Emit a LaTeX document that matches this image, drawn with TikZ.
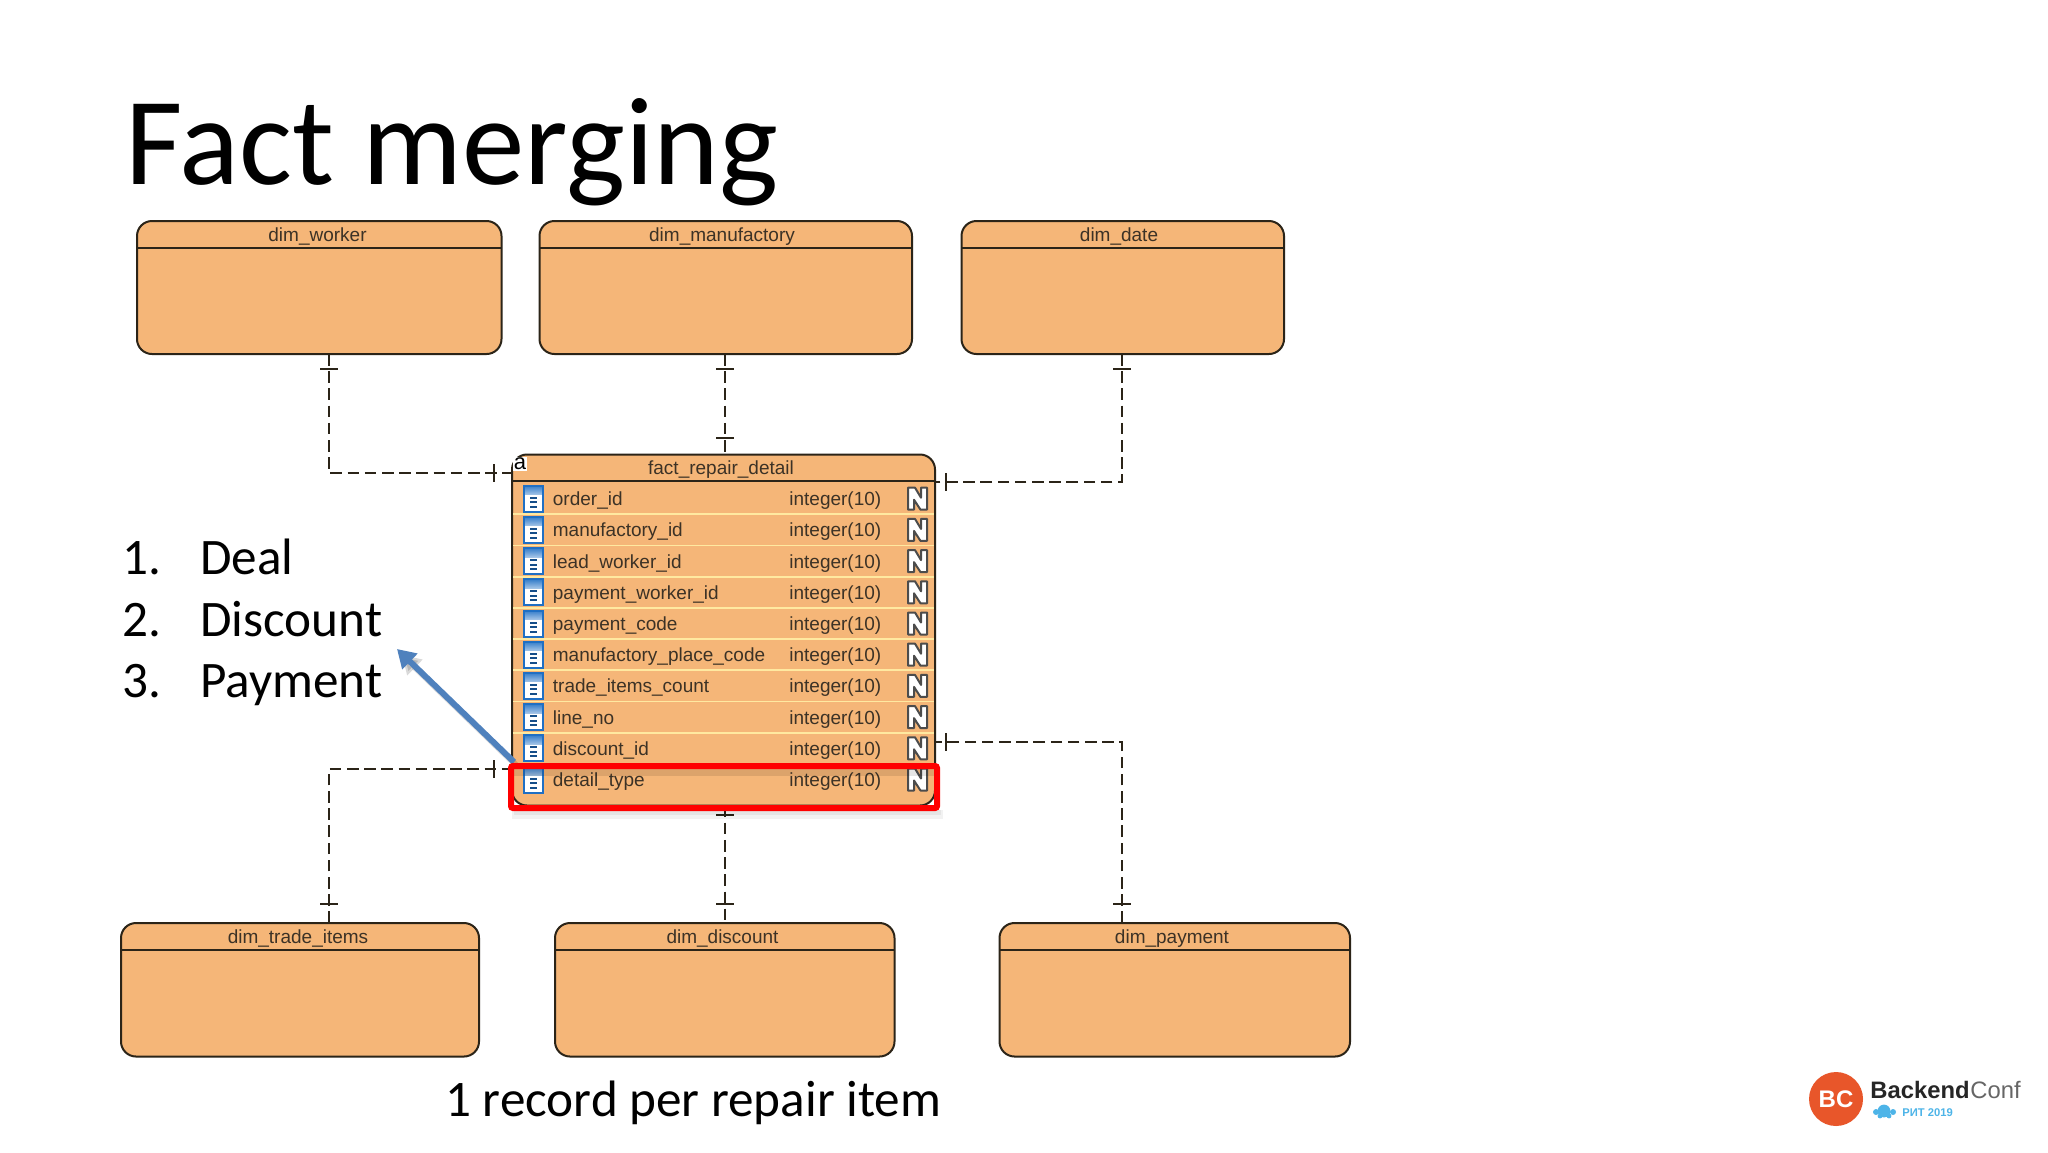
\documentclass[tikz,border=0pt]{standalone}
\usepackage{fontspec}
\setmainfont{Liberation Sans}
\newfontfamily\calfont{Carlito}
\usetikzlibrary{arrows.meta,calc}
\definecolor{tblfill}{HTML}{F5B678}
\definecolor{tblline}{HTML}{2B2418}
\definecolor{tbltext}{HTML}{3C3226}
\definecolor{rowline}{HTML}{FFE9A0}
\definecolor{arrowblue}{HTML}{4F81BD}
\definecolor{iconblue}{HTML}{1F6FC4}
\definecolor{logoorange}{HTML}{E8562A}
\definecolor{logoblue}{HTML}{4DB4E8}
\tikzset{
  tbl/.style={draw=tblline,fill=tblfill,line width=1pt,rounded corners=7.5pt,inner sep=0pt,outer sep=0pt},
  tblrule/.style={draw=tblline,line width=1pt},
  tbltitle/.style={text=tbltext,font=\fontsize{9.5}{11}\selectfont,inner sep=0pt,anchor=base},
  rowtext/.style={text=tbltext,font=\fontsize{9.5}{11}\selectfont,inner sep=0pt,anchor=base west},
  conn/.style={draw=tblline,line width=.8pt,dash pattern=on 5.8pt off 2.8pt},
  tick/.style={draw=tblline,line width=.8pt},
  slide/.style={text=black,inner sep=0pt,anchor=base west,font=\calfont\fontsize{25.6}{30}\selectfont},
  iconpic/.pic={
    \fill[white] (-9.5,-13) rectangle (9.5,13);
    \shade[top color=iconblue!90,bottom color=iconblue!40] (-9.5,-13) rectangle (9.5,-4);
    \draw[iconblue,line width=1pt] (-9.5,-13) rectangle (9.5,13);
    \foreach \yy in {-1,3.5,8}{\fill[iconblue!70!black] (-3.5,\yy-1) rectangle (3.5,\yy+1);}
  },
  nflag/.pic={
    \draw[draw=black!70,fill=white,line width=1pt,line join=round]
      (-9.5,11) -- (-9.5,-11) -- (-2.5,-11) -- (3.5,-1) -- (3.5,-11) -- (9.5,-11)
      -- (9.5,11) -- (3,11) -- (-3.5,1) -- (-3.5,11) -- cycle;
  }
}
\newcommand{\dimbox}[7]{%
  \pgfmathsetmacro{\bxx}{(#2+#4)/2}\pgfmathsetmacro{\bxy}{(#3+#5)/2}%
  \pgfmathsetmacro{\bxw}{(#4-#2)*0.5}\pgfmathsetmacro{\bxh}{(#5-#3)*0.5}%
  \node[tbl,minimum width=\bxw pt,minimum height=\bxh pt] (#1) at (\bxx,\bxy) {};
  \coordinate (#1h) at (0,#3+26.5);
  \draw[tblrule] (#1.west |- #1h) -- (#1.east |- #1h);
  \node[tbltitle] (#1t) at (#7,#3+20) {#6};
}
\newcommand{\htick}[2]{\draw[tick] (#1-9,#2) -- (#1+9,#2);}
\newcommand{\vtick}[2]{\draw[tick] (#1,#2-9) -- (#1,#2+9);}
\begin{document}
\begin{tikzpicture}[x=0.5pt,y=-0.5pt]
\useasboundingbox (0,0) rectangle (2048,1152);
\fill[white] (0,0) rectangle (2048,1152);

\node[slide,font=\calfont\fontsize{62.5}{70}\selectfont] (title) at (125,184) {Fact merging};

\dimbox{worker}{137}{221}{501.5}{354}{dim\_worker}{317.5}
\dimbox{manuf}{539.5}{221}{912}{354}{dim\_manufactory}{722}
\dimbox{date}{961.5}{221}{1284}{354}{dim\_date}{1119}
\dimbox{trade}{121}{923}{479}{1056.5}{dim\_trade\_items}{298}
\dimbox{disc}{555}{923}{894.5}{1056.5}{dim\_discount}{722.5}
\dimbox{pay}{999.5}{923}{1350}{1056.5}{dim\_payment}{1172}

% fact table
\node[tbl,minimum width=211.5pt,minimum height=175.5pt] (fact) at (723.5,630) {};
\coordinate (facth) at (0,480.5);
\draw[tblrule] (fact.west |- facth) -- (fact.east |- facth);
\node[tbltitle] (factt) at (721,474) {fact\_repair\_detail};
\node[text=black,fill=white,inner sep=.5pt,font=\fontsize{11}{12}\selectfont] (facta) at (520,464) {a};
\foreach \i/\n in {0/order\_id,1/manufactory\_id,2/lead\_worker\_id,3/payment\_worker\_id,4/payment\_code,5/manufactory\_place\_code,6/trade\_items\_count,7/line\_no,8/discount\_id,9/detail\_type}{
  \pgfmathsetmacro{\ry}{498.7+31.2*\i}
  \pgfmathsetmacro{\rb}{\ry+7}
  \pgfmathsetmacro{\rl}{\ry+15.6}
  \node[rowtext] (col\i) at (552.5,\rb) {\n};
  \node[rowtext] (typ\i) at (789,\rb) {integer(10)};
  \pic at (533.5,\ry) {iconpic};
  \pic at (917.5,\ry) {nflag};
  \ifnum\i<9
    \draw[rowline,line width=.9pt] (513,\rl) -- (934,\rl);
  \fi
}

% connectors
\coordinate (cw) at (329,473);
\coordinate (cm) at (725,400);
\coordinate (cd) at (1122,482);
\coordinate (ct) at (329,769);
\coordinate (cp) at (1122,742);
\draw[conn] (worker.south -| cw) |- (fact.west |- cw);
\draw[conn] (manuf.south -| cm) -- (fact.north -| cm);
\draw[conn] (date.south -| cd) |- (fact.east |- cd);
\draw[conn] (trade.north -| ct) |- (fact.west |- ct);
\draw[conn] (fact.south -| cm) -- (disc.north -| cm);
\draw[conn] (pay.north -| cp) |- (fact.east |- cp);
\htick{329}{369}\vtick{494}{473}
\htick{725}{369}\htick{725}{438}
\htick{1122}{369}\vtick{946}{482}
\htick{329}{904}\vtick{494}{769}
\htick{725}{815}\htick{725}{904}
\htick{1122}{904}\vtick{946}{742}

% blue arrow
\coordinate (atail) at (514,762);
\coordinate (ahead) at (397,649);
\draw[black,opacity=.15,line width=3pt,-{Triangle[length=9pt,width=10.5pt]}] (518,767) -- (402,655);
\draw[arrowblue,line width=3pt,-{Triangle[length=9pt,width=10.5pt]}] (atail) -- (ahead);

% red highlight
\fill[black,opacity=.10] (514,769) rectangle (934,776);
\fill[black,opacity=.05] (512,810) rectangle (943,819);
\fill[black,opacity=.05] (514,810) rectangle (941,815);
\node[draw=red,line width=3pt,rounded corners=1pt,minimum width=213pt,minimum height=21pt,inner sep=0pt,outer sep=0pt] (mark) at (724,787) {};

% list
\node[slide] (n1) at (122,574) {1.};
\node[slide] (t1) at (200,574) {Deal};
\node[slide] (n2) at (122,636) {2.};
\node[slide] (t2) at (200,636) {Discount};
\node[slide] (n3) at (122,697) {3.};
\node[slide] (t3) at (200,697) {Payment};
\node[slide] (cap) at (445,1116) {1 record per repair item};

% logo
\node[circle,fill=logoorange,minimum size=27pt,inner sep=0pt,text=white,font=\bfseries\fontsize{12}{12}\selectfont] (logo) at (1836,1099) {BC};
\node[inner sep=0pt,anchor=base west,text=black!85,font=\bfseries\fontsize{11.9}{13}\selectfont] (lback) at (1870,1098) {Backend};
\node[inner sep=0pt,anchor=base west,text=black!60,font=\fontsize{11.9}{13}\selectfont] (lconf) at (lback.base east) {Conf};
\foreach \xx/\yy/\rr in {1884/1111/3.2,1876/1112/1.5,1893/1112/1.5,1880/1116/1.2,1889/1116/1.2}{\fill[logoblue] (\xx,\yy) circle (\rr*1pt);}
\node[inner sep=0pt,anchor=base west,text=logoblue,font=\bfseries\fontsize{5.6}{7}\selectfont] (lrit) at (1902,1116) {РИТ 2019};
\end{tikzpicture}
\end{document}
